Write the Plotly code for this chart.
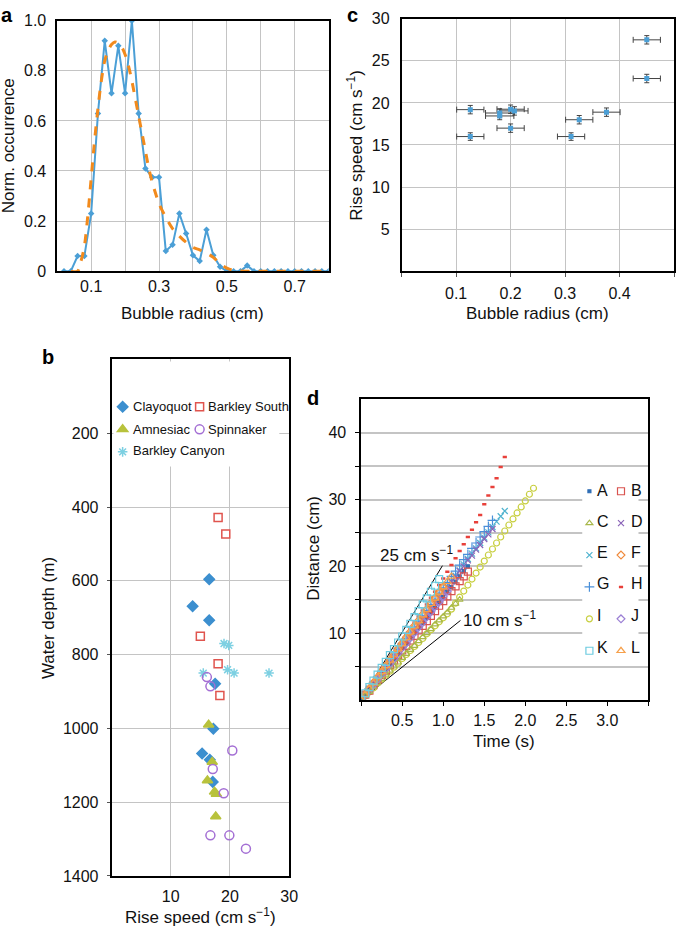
import plotly.graph_objects as go

W, H = 685, 936
FONT = "Liberation Sans, Arial, Helvetica, sans-serif"


def fx(p):
    return p / W


def fy(p):
    return 1 - p / H


# ---------------- Panel a: bubble radius distribution ----------------
radius_bins = [0.02, 0.04, 0.06, 0.08, 0.10, 0.12, 0.14, 0.16, 0.18, 0.20,
               0.22, 0.24, 0.26, 0.28, 0.30, 0.32, 0.34, 0.36, 0.38, 0.40,
               0.42, 0.44, 0.46, 0.48, 0.50, 0.52, 0.54, 0.56, 0.58, 0.60,
               0.62, 0.64, 0.66, 0.68, 0.70, 0.72, 0.74, 0.76, 0.78, 0.80]
occurrence = [0.0, 0.0, 0.06, 0.06, 0.23, 0.63, 0.92, 0.71, 0.90, 0.71,
              1.0, 0.63, 0.41, 0.375, 0.375, 0.08, 0.105, 0.23, 0.15, 0.063,
              0.04, 0.165, 0.063, 0.017, 0.0, 0.0, 0.0, 0.022, 0.0, 0.0,
              0.0, 0.0, 0.0, 0.0, 0.0, 0.0, 0.0, 0.0, 0.0, 0.0]
fit_radius = [0.04, 0.06, 0.07, 0.08, 0.09, 0.10, 0.11, 0.12, 0.13, 0.14,
              0.15, 0.16, 0.17, 0.18, 0.19, 0.20, 0.21, 0.22, 0.23, 0.24,
              0.25, 0.26, 0.27, 0.28, 0.29, 0.30, 0.32, 0.34, 0.36, 0.38,
              0.40, 0.42, 0.44, 0.46, 0.48, 0.50, 0.52, 0.55, 0.60, 0.70, 0.80]
fit_occurrence = [0.0, 0.0, 0.04, 0.10, 0.22, 0.37, 0.52, 0.65, 0.76, 0.84,
                  0.88, 0.905, 0.915, 0.91, 0.895, 0.865, 0.82, 0.76, 0.69, 0.62,
                  0.55, 0.48, 0.41, 0.355, 0.31, 0.27, 0.215, 0.17, 0.14, 0.115,
                  0.095, 0.085, 0.072, 0.055, 0.03, 0.012, 0.003, 0.0, 0.0, 0.0, 0.0]

# ---------------- Panel c: rise speed vs radius ----------------
c_radius = [0.126, 0.126, 0.180, 0.180, 0.200, 0.207, 0.200, 0.311, 0.326, 0.376, 0.450, 0.450]
c_speed = [19.2, 16.0, 18.8, 18.45, 19.25, 19.05, 17.0, 16.0, 18.0, 18.9, 27.5, 22.9]
c_radius_err = [0.025, 0.025, 0.026, 0.026, 0.025, 0.025, 0.025, 0.025, 0.025, 0.025, 0.025, 0.025]
c_speed_err = [0.5, 0.45, 0.5, 0.45, 0.5, 0.5, 0.5, 0.45, 0.5, 0.5, 0.5, 0.5]

# ---------------- Panel b: rise speed vs depth ----------------
clayoquot_speed = [16.5, 13.7, 16.5, 17.5, 17.2, 15.3, 16.6, 17.1]
clayoquot_depth = [596, 669, 707, 879, 1001, 1068, 1085, 1145]
barkley_south_speed = [18.0, 19.3, 15.0, 18.0, 18.3]
barkley_south_depth = [428, 473, 750, 825, 911]
amnesiac_speed = [16.4, 17.0, 16.2, 17.4, 17.7, 17.6]
amnesiac_depth = [990, 1091, 1141, 1172, 1178, 1239]
spinnaker_speed = [16.1, 16.7, 20.4, 17.1, 18.95, 16.7, 19.9, 22.7]
spinnaker_depth = [861, 886, 1060, 1110, 1176, 1290, 1290, 1326]
canyon_speed = [19.0, 19.8, 15.5, 19.6, 20.7, 26.6]
canyon_depth = [770, 775, 850, 841, 850, 850]

# ---------------- Panel d: distance vs time ----------------
time_s = [0.00, 0.05, 0.10, 0.15, 0.20, 0.25, 0.30, 0.35, 0.40, 0.45,
          0.50, 0.55, 0.60, 0.65, 0.70, 0.75, 0.80, 0.85, 0.90, 0.95,
          1.00, 1.05, 1.10, 1.15, 1.20, 1.25, 1.30, 1.35, 1.40, 1.45,
          1.50, 1.55, 1.60, 1.65, 1.70, 1.75, 1.80, 1.85, 1.90, 1.95,
          2.00, 2.05, 2.10]
dist_A = [0.0, 0.7, 1.5, 2.3, 3.0, 3.8, 4.6, 5.4, 6.1, 6.9, 7.7, 8.4, 9.2, 10.0,
          10.8, 11.5, 12.3, 13.1, 13.8, 14.6, 15.4, 16.2, 16.9, 17.7, 18.5, 19.3, 20.0]
dist_B = [0.0, 0.8, 1.4, 2.2, 3.0, 3.7, 4.4, 5.2, 5.9, 6.7, 7.4, 8.1, 8.9, 9.6,
          10.4, 11.1, 11.8, 12.6, 13.3, 14.1, 14.8, 15.5, 16.3, 17.0, 17.8, 18.5, 19.2]
dist_C = [0.0, 0.6, 1.2, 1.9, 2.5, 3.1, 3.8, 4.4, 5.0, 5.6, 6.3, 6.9, 7.5, 8.1,
          8.8, 9.4, 10.0, 10.6, 11.3, 11.9, 12.5, 13.1, 13.8, 14.4, 15.0]
dist_D = [0.0, 0.8, 1.7, 2.4, 3.3, 4.0, 4.9, 5.6, 6.5, 7.2, 8.1, 8.8, 9.7, 10.4,
          11.3, 12.0, 12.9, 13.6, 14.5, 15.2, 16.1, 16.8, 17.7, 18.4, 19.3, 20.0,
          20.9, 21.6, 22.5, 23.2, 24.1, 24.8, 25.6]
dist_E = [0.0, 0.8, 1.6, 2.4, 3.2, 4.1, 4.9, 5.7, 6.5, 7.3, 8.1, 8.9, 9.7, 10.5,
          11.3, 12.2, 13.0, 13.8, 14.6, 15.4, 16.2, 17.0, 17.8, 18.6, 19.4, 20.3,
          21.1, 21.9, 22.7, 23.5, 24.3, 25.1, 25.9, 26.7, 27.5, 28.3]
dist_F = [0.0, 0.9, 1.7, 2.6, 3.4, 4.3, 5.1, 6.0, 6.8, 7.7, 8.5, 9.4, 10.2, 11.1,
          11.9, 12.8, 13.6, 14.5, 15.3, 16.2, 17.0]
dist_G = [0.0, 0.8, 1.7, 2.5, 3.4, 4.2, 5.0, 5.9, 6.7, 7.6, 8.4, 9.2, 10.1, 10.9,
          11.8, 12.6, 13.4, 14.3, 15.1, 16.0, 16.8, 17.6, 18.5, 19.3, 20.2, 21.0,
          21.8, 22.7, 23.5, 24.4, 25.2, 26.0, 26.9]
dist_H = [0.0, 0.8, 1.7, 2.6, 3.5, 4.4, 5.3, 6.2, 7.1, 8.0, 8.9, 9.8, 10.7, 11.6,
          12.5, 13.4, 14.3, 15.3, 16.2, 17.2, 18.2, 19.2, 20.2, 21.2, 22.3, 23.3,
          24.4, 25.5, 26.6, 27.7, 29.3, 30.6, 31.9, 33.2, 34.9, 36.4]
dist_I = [0.0, 0.6, 1.2, 1.8, 2.5, 3.1, 3.7, 4.3, 4.9, 5.5, 6.2, 6.8, 7.4, 8.0,
          8.6, 9.2, 9.9, 10.5, 11.1, 11.7, 12.3, 12.9, 13.6, 14.5, 15.4, 16.3,
          17.2, 18.1, 19.0, 19.9, 20.8, 21.7, 22.6, 23.5, 24.4, 25.3, 26.2, 27.1,
          28.0, 28.9, 29.8, 30.8, 31.7]
dist_J = [0.0, 0.8, 1.6, 2.3, 3.1, 3.9, 4.7, 5.4, 6.2, 7.0, 7.8, 8.5, 9.3, 10.1,
          10.9, 11.6, 12.4, 13.2, 14.0, 14.7, 15.5, 16.3]
dist_K = [0.0, 1.0, 1.9, 2.9, 3.8, 4.8, 5.7, 6.7, 7.6, 8.6, 9.5, 10.5, 11.4, 12.4,
          13.3, 14.3, 15.2, 16.2, 17.1, 18.1]
dist_L = [0.0, 0.8, 1.7, 2.5, 3.4, 4.2, 5.1, 5.9, 6.8, 7.6, 8.4, 9.3, 10.1, 11.0,
          11.8, 12.7, 13.5, 14.4, 15.2, 16.1, 16.9, 17.7, 18.5]
ref25_time = [0.0, 0.99]
ref25_dist = [0.0, 20.1]
ref10_time = [0.0, 1.21]
ref10_dist = [0.0, 11.9]

fig = go.Figure()

# ---- panel a traces
fig.add_trace(go.Scatter(x=radius_bins, y=occurrence, mode="lines+markers",
                         line=dict(color="#4b9fd6", width=2),
                         marker=dict(symbol="diamond", size=5, color="#4b9fd6"),
                         xaxis="x", yaxis="y", showlegend=False))
fig.add_trace(go.Scatter(x=fit_radius, y=fit_occurrence, mode="lines",
                         line=dict(color="#f28a1c", width=3, dash="dash", shape="spline"),
                         xaxis="x", yaxis="y", showlegend=False))

# ---- panel c traces
fig.add_trace(go.Scatter(x=c_radius, y=c_speed, mode="markers",
                         marker=dict(symbol="square", size=5, color="#4b9fd6"),
                         error_x=dict(type="data", array=c_radius_err, color="#444", thickness=1, width=3),
                         error_y=dict(type="data", array=c_speed_err, color="#444", thickness=1, width=2.5),
                         xaxis="x2", yaxis="y2", showlegend=False))

# ---- panel b traces (legend entries carry the symbol; labels placed as text)
b_series = [
    ("Clayoquot", clayoquot_speed, clayoquot_depth, "diamond", 8, "#3c8fcf", "legend"),
    ("Amnesiac", amnesiac_speed, amnesiac_depth, "triangle-up", 9, "#b8c23c", "legend"),
    ("Barkley Canyon", canyon_speed, canyon_depth, "asterisk-open", 8, "#7dd0e2", "legend"),
    ("Barkley South", barkley_south_speed, barkley_south_depth, "square-open", 8, "#e0544e", "legend2"),
    ("Spinnaker", spinnaker_speed, spinnaker_depth, "circle-open", 9, "#a46fd4", "legend2"),
]
for name, xs, ys, sym, size, col, leg in b_series:
    fig.add_trace(go.Scatter(x=xs, y=ys, mode="markers", name="", meta=name,
                             hovertemplate=name + ": %{x}, %{y}<extra></extra>",
                             marker=dict(symbol=sym, size=size, color=col,
                                         line=dict(color=col, width=1.5)),
                             xaxis="x3", yaxis="y3", legend=leg, legendgroup=name))

# ---- panel d traces
fig.add_trace(go.Scatter(x=ref25_time, y=ref25_dist, mode="lines",
                         line=dict(color="black", width=1), xaxis="x4", yaxis="y4", showlegend=False))
fig.add_trace(go.Scatter(x=ref10_time, y=ref10_dist, mode="lines",
                         line=dict(color="black", width=1), xaxis="x4", yaxis="y4", showlegend=False))

d_series = [
    ("I", dist_I, "circle-open", 6, "#c8cf40", "legend3"),
    ("H", dist_H, "line-ew-open", 3, "#e8403a", "legend4"),
    ("E", dist_E, "x-thin-open", 6, "#4fb3cf", "legend3"),
    ("G", dist_G, "cross-thin-open", 7, "#4a90d9", "legend3"),
    ("D", dist_D, "x-thin-open", 6, "#8a63b8", "legend4"),
    ("A", dist_A, "square", 3, "#2f6eb5", "legend3"),
    ("B", dist_B, "square-open", 7, "#d9534f", "legend4"),
    ("C", dist_C, "triangle-up-open", 6, "#a8b84a", "legend3"),
    ("J", dist_J, "diamond-open", 6, "#9b7fd4", "legend4"),
    ("F", dist_F, "diamond-open", 6, "#f08a3c", "legend4"),
    ("L", dist_L, "triangle-up-open", 7, "#f6a04b", "legend4"),
    ("K", dist_K, "square-open", 7, "#6ccbe0", "legend3"),
]
order = {"A": 0, "B": 0, "C": 1, "D": 1, "E": 2, "F": 2, "G": 3, "H": 3, "I": 4, "J": 4, "K": 5, "L": 5}
for name, ds, sym, size, col, leg in d_series:
    fig.add_trace(go.Scatter(x=time_s[:len(ds)], y=ds, mode="markers", name="", meta=name,
                             hovertemplate=name + ": %{x}, %{y}<extra></extra>",
                             marker=dict(symbol=sym, size=size, color=col,
                                         line=dict(color=col, width=1.2 if "line" not in sym else 2.5)),
                             xaxis="x4", yaxis="y4", legend=leg, legendgroup=name,
                             legendrank=order[name]))

# ---------------- axes ----------------
GRID = "#c4c4c4"
tickfont = dict(family=FONT, size=16, color="#111")
common = dict(showline=True, linecolor="black", linewidth=1.6, mirror=True,
              zeroline=False, gridcolor=GRID, gridwidth=1, tickfont=tickfont,
              fixedrange=True)

fig.update_layout(
    xaxis=dict(domain=[fx(58), fx(333)], anchor="y", range=[0, 0.8],
               tickvals=[0.1, 0.3, 0.5, 0.7], ticks="", ticklabelstandoff=0,
               minor=dict(tickvals=[0.2, 0.4, 0.6], showgrid=True, gridcolor=GRID, ticks=""),
               **common),
    yaxis=dict(domain=[fy(268), fy(13)], anchor="x", range=[0, 1.0],
               tickvals=[0, 0.2, 0.4, 0.6, 0.8, 1.0],
               ticktext=["0", "0.2", "0.4", "0.6", "0.8", "1.0"],
               ticks="", ticklabelstandoff=6, **common),
    xaxis2=dict(domain=[fx(407), fx(683)], anchor="y2", range=[0, 0.5],
                tickvals=[0.1, 0.2, 0.3, 0.4],
                ticks="outside", ticklen=4, tickcolor="#555", ticklabelstandoff=3,
                minor=dict(tickvals=[0, 0.5], ticks="outside", ticklen=4, tickcolor="#555", showgrid=False),
                **common),
    yaxis2=dict(domain=[fy(268), fy(11)], anchor="x2", range=[0, 30],
                tickvals=[5, 10, 15, 20, 25, 30],
                ticks="", ticklabelstandoff=7, **common),
    xaxis3=dict(domain=[fx(113), fx(293)], anchor="y3", range=[0, 30],
                tickvals=[10, 20, 30],
                ticks="", ticklabelstandoff=5, **common),
    yaxis3=dict(domain=[fy(884), fy(358)], anchor="x3", range=[1400, 0],
                tickvals=[200, 400, 600, 800, 1000, 1200, 1400],
                ticks="outside", ticklen=3, tickcolor="#555", ticklabelstandoff=5, **common),
    xaxis4=dict(domain=[fx(366), fx(657)], anchor="y4", range=[0, 3.5],
                tickvals=[0.5, 1.0, 1.5, 2.0, 2.5, 3.0],
                ticktext=["0.5", "1.0", "1.5", "2.0", "2.5", "3.0"],
                showgrid=False, ticks="outside", ticklen=4, tickcolor="black",
                ticklabelstandoff=1,
                minor=dict(tickvals=[0, 3.5], ticks="outside", ticklen=4, tickcolor="black", showgrid=False),
                **common),
    yaxis4=dict(domain=[fy(704.7), fy(398.7)], anchor="x4", range=[0, 45],
                tickvals=[10, 20, 30, 40],
                ticks="outside", ticklen=4, tickcolor="black", ticklabelstandoff=6,
                minor=dict(tickvals=[5, 15, 25, 35], ticks="outside", ticklen=4, tickcolor="black",
                           showgrid=True, gridcolor=GRID, gridwidth=1.5),
                **common),
)
fig.update_layout(yaxis4_gridwidth=1.5)

# ---------------- legends (symbols) ----------------
def leg(x, y, size, gap):
    return dict(x=fx(x), y=fy(y), xanchor="left", yanchor="top",
                bgcolor="rgba(0,0,0,0)", font=dict(family=FONT, size=size, color="#111"),
                tracegroupgap=gap, itemwidth=30)


fig.update_layout(
    legend=leg(104, 391, 13, 2.6),
    legend2=leg(182, 391, 13, 2.6),
    legend3=leg(577, 475, 16, 8.1),
    legend4=leg(609, 475, 16, 8.1),
)

# white panels behind legends (hide grid lines)
fig.add_shape(type="rect", xref="paper", yref="paper",
              x0=fx(115), x1=fx(283), y0=fy(467), y1=fy(360),
              fillcolor="white", line=dict(width=0), layer="above")
fig.add_shape(type="rect", xref="paper", yref="paper",
              x0=fx(590), x1=fx(647), y0=fy(662), y1=fy(480),
              fillcolor="white", line=dict(width=0), layer="above")

# legend labels
b_labels = [("Clayoquot", 133, 406), ("Amnesiac", 133, 429), ("Barkley Canyon", 133, 451),
            ("Barkley South", 209, 406), ("Spinnaker", 209, 429)]
for t, x, y in b_labels:
    fig.add_annotation(xref="paper", yref="paper", showarrow=False, text=t,
                       x=fx(x), y=fy(y), xanchor="left", yanchor="middle",
                       font=dict(family=FONT, size=13, color="#111"))
d_rows = [491.7, 522.7, 555, 586, 618.3, 651]
d_left = ["A", "C", "E", "G", "I", "K"]
d_right = ["B", "D", "F", "H", "J", "L"]
for i, y in enumerate(d_rows):
    for t, x in [(d_left[i], 603), (d_right[i], 637)]:
        fig.add_annotation(xref="paper", yref="paper", showarrow=False, text=t,
                           x=fx(x), y=fy(y), xanchor="left", yanchor="middle",
                           font=dict(family=FONT, size=16, color="#111"))

# ---------------- annotations ----------------
tf = dict(family=FONT, size=17, color="#111")
ann = [
    dict(text="Norm. occurrence", x=fx(9), y=fy(140), textangle=-90),
    dict(text="Bubble radius (cm)", x=fx(195), y=fy(311)),
    dict(text="Rise speed (cm s<sup>−1</sup>)", x=fx(360), y=fy(140), textangle=-90),
    dict(text="Bubble radius (cm)", x=fx(545), y=fy(311)),
    dict(text="Water depth (m)", x=fx(49), y=fy(621), textangle=-90),
    dict(text="Rise speed (cm s<sup>−1</sup>)", x=fx(203), y=fy(925)),
    dict(text="Distance (cm)", x=fx(317), y=fy(550), textangle=-90),
    dict(text="Time (s)", x=fx(511), y=fy(747)),
    dict(text="25 cm s<sup>−1</sup>", x=fx(422), y=fy(556)),
    dict(text="10 cm s<sup>−1</sup>", x=fx(506), y=fy(622)),
]
for a in ann:
    fig.add_annotation(xref="paper", yref="paper", showarrow=False,
                       xanchor="center", yanchor="middle", font=tf, **a)
lf = dict(family=FONT, size=20, color="black")
for t, x, y in [("a", 7, 7), ("c", 357, 7), ("b", 49, 355), ("d", 317, 397)]:
    fig.add_annotation(xref="paper", yref="paper", showarrow=False, text="<b>%s</b>" % t,
                       x=fx(x), y=fy(y), xanchor="center", yanchor="middle", font=lf)

fig.update_layout(width=W, height=H, margin=dict(l=0, r=0, t=0, b=0),
                  paper_bgcolor="white", plot_bgcolor="white",
                  font=dict(family=FONT, color="#111"))

fig.write_html("out.html", config={"displayModeBar": False},
               post_script="document.body.style.margin='0';document.body.style.overflow='hidden';")
